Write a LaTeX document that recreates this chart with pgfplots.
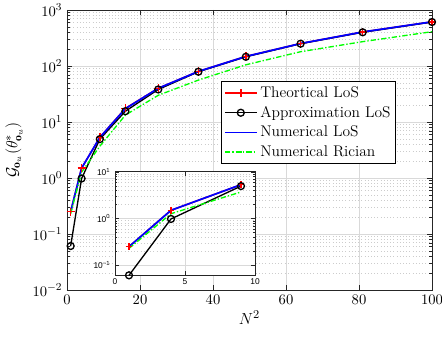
\documentclass[border=0pt]{standalone}
\usepackage{fontspec}
\newfontfamily\hel{Liberation Sans}
\usepackage{pgfplots}
\pgfplotsset{compat=1.18}
\definecolor{axgray}{rgb}{0.15,0.15,0.15}
\definecolor{mgreen}{rgb}{0,1,0}
\pgfplotstableread{
x theor approx numer rician
1 0.25 0.061 0.25 0.23
4 1.5 0.98 1.5 1.27
9 5.3 4.95 5.3 3.7
16 17.5 15.6 17.3 13.3
25 40 38.1 40 30
36 80 79 80 56
49 148 146 148 105
64 252 250 252 180
81 405 400 405 272
100 615 610 615 410
}\datatab
\begin{document}
\begin{tikzpicture}
\path[use as bounding box] (-50.25pt,-36pt) rectangle (281.25pt,217.5pt);
\begin{axis}[
  at={(0,0)}, anchor=south west,
  scale only axis, width=273.75pt, height=210pt,
  xmin=0, xmax=100, ymin=1e-2, ymax=1e3,
  ymode=log,
  xtick={0,20,40,60,80,100},
  ytick={1e-2,1e-1,1,1e1,1e2,1e3},
  axis line style={axgray, line width=0.6pt},
  tick style={axgray},
  major tick length=4pt, minor tick length=2pt,
  grid=both,
  major grid style={gray!30, line width=0.5pt},
  minor y grid style={gray!40, dotted, line width=0.5pt},
  minor x tick num=0,
  xminorgrids=false,
  tick label style={font=\fontsize{11}{12}\selectfont},
  label style={font=\fontsize{12.5}{14}\selectfont},
  xlabel={$N^2$},
  ylabel={$\mathcal{G}_{\mathbf{o}_u}(\theta^*_{\mathbf{o}_u})$},
  xlabel style={yshift=2pt},
  ylabel style={yshift=0.5pt},
  legend style={at={(0.4219,0.7464)}, anchor=north west, draw=black, line width=0.5pt,
    font=\fontsize{11.6}{13}\selectfont, row sep=1pt, inner sep=2pt},
  legend cell align=left,
  legend image code/.code={\draw[mark repeat=2,mark phase=2,#1] plot coordinates {(0cm,0cm) (0.42cm,0cm) (0.84cm,0cm)};},
]
\addplot[red, line width=1.1pt, mark=+, mark size=3pt, mark options={solid}] table[x=x,y=theor] {\datatab};
\addlegendentry{Theortical LoS}
\addplot[black, line width=1pt, mark=o, mark size=2.6pt, mark options={solid, line width=1pt}] table[x=x,y=approx] {\datatab};
\addlegendentry{Approximation LoS}
\addplot[blue, line width=1.3pt] table[x=x,y=numer] {\datatab};
\addlegendentry{Numerical LoS}
\addplot[mgreen, line width=1pt, dash pattern=on 4pt off 1.5pt on 1pt off 1.5pt] table[x=x,y=rician] {\datatab};
\addlegendentry{Numerical Rician}
\end{axis}
\begin{axis}[
  at={(36pt,11.25pt)}, anchor=south west,
  scale only axis, width=105pt, height=77.4pt,
  xmin=0, xmax=10, ymin=0.062, ymax=10,
  ymode=log, clip=false,
  axis background/.style={fill=white},
  xtick={0,5,10}, xticklabels={{\hel 0},{\hel 5},{\hel 10}},
  ytick={0.1,1,10},
  yticklabels={{\hel 10\textsuperscript{−1}},{\hel 10\textsuperscript{0}},{\hel 10\textsuperscript{1}}},
  axis line style={axgray, line width=0.6pt},
  tick style={axgray},
  major tick length=3pt, minor tick length=1.5pt,
  grid=both,
  major grid style={gray!30, line width=0.5pt},
  minor y grid style={gray!40, dotted, line width=0.5pt},
  minor x tick num=0,
  xminorgrids=false,
  tick label style={font=\fontsize{6.3}{7}\selectfont},
  xticklabel style={yshift=1pt},
]
\addplot[red, line width=1.1pt, mark=+, mark size=2.5pt, mark options={solid}] coordinates {(1,0.25) (4,1.5) (9,5.3)};
\addplot[black, line width=1pt, mark=o, mark size=2.6pt, mark options={solid, line width=1pt}] coordinates {(1,0.061) (4,0.98) (9,4.95)};
\addplot[blue, line width=1.3pt] coordinates {(1,0.25) (4,1.5) (9,5.3)};
\addplot[mgreen, line width=1pt, dash pattern=on 4pt off 1.5pt on 1pt off 1.5pt] coordinates {(1,0.23) (4,1.27) (9,3.7)};
\end{axis}
\end{tikzpicture}
\end{document}
